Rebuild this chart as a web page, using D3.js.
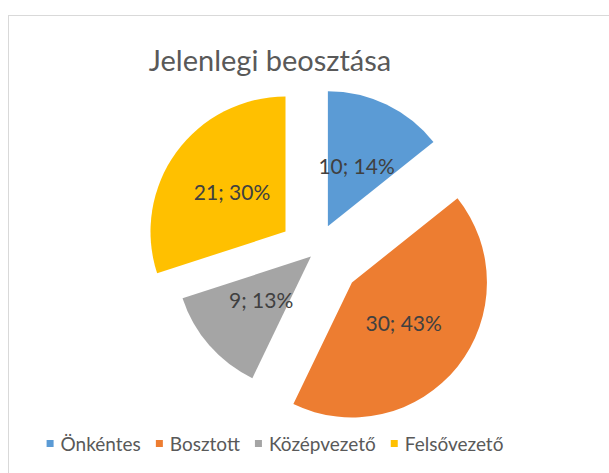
<!doctype html>
<html lang="hu">
<head>
    <meta charset="UTF-8">
    <script src="https://cdnjs.cloudflare.com/ajax/libs/d3/7.0.0/d3.min.js"></script>
    <title>Jelenlegi beosztása</title>
    <style>
        body { margin: 0; background: #fff; }
        text { font-family: Lato, "Open Sans", sans-serif; }
    </style>
</head>
<body>

<div id="viz_area"></div>

<script>
    // data
    const categories = ["Önkéntes", "Bosztott", "Középvezető", "Felsővezető"];
    const values = [10, 30, 9, 21];
    const percents = ["14%", "43%", "13%", "30%"];
    const colors = ["#5b9bd5", "#ed7d31", "#a5a5a5", "#ffc000"];
    // explosion of each slice, as part of the radius
    const explode = [0.22, 0.35, 0.04, 0.27];

    const width = 609, height = 473;
    const cx = 315, cy = 253, radius = 135;

    const svg = d3.select('#viz_area')
        .append("svg")
        .attr("width", width)
        .attr("height", height);

    // chart frame
    svg.append("rect")
        .attr("x", 8.5).attr("y", 15.5)
        .attr("width", 640).attr("height", 500)
        .attr("fill", "#fff")
        .attr("stroke", "#d9d9d9");

    svg.append("text")
        .attr("x", 270).attr("y", 71)
        .attr("text-anchor", "middle")
        .style("font-size", "29px")
        .style("fill", "#595959")
        .text("Jelenlegi beosztása");

    const pie = d3.pie().sort(null).value(d => d);
    const arcs = pie(values);
    const arc = d3.arc().innerRadius(0).outerRadius(radius);
    const labelArc = d3.arc().innerRadius(radius * 0.98).outerRadius(0);

    const g = svg.append("g").attr("transform", `translate(${cx},${cy})`);

    const slice = g.selectAll("g.slice")
        .data(arcs)
        .join("g")
        .attr("class", "slice")
        .attr("transform", (d, i) => {
            const a = (d.startAngle + d.endAngle) / 2;
            const off = explode[i] * radius;
            return `translate(${Math.sin(a) * off},${-Math.cos(a) * off})`;
        });

    slice.append("path")
        .attr("d", arc)
        .attr("fill", (d, i) => colors[i]);

    slice.append("text")
        .attr("transform", d => `translate(${labelArc.centroid(d)})`)
        .attr("text-anchor", "middle")
        .attr("dy", "0.36em")
        .style("font-size", "21px")
        .style("fill", "#404040")
        .text((d, i) => `${values[i]}; ${percents[i]}`);

    // legend
    const legend = svg.append("g");
    let x = 0;
    categories.forEach((c, i) => {
        const item = legend.append("g").attr("transform", `translate(${x},0)`);
        item.append("rect")
            .attr("x", 0).attr("y", -11)
            .attr("width", 7).attr("height", 7)
            .attr("fill", colors[i]);
        const t = item.append("text")
            .attr("x", 14).attr("y", 0)
            .style("font-size", "19px")
            .style("fill", "#595959")
            .text(c);
        x += 14 + t.node().getComputedTextLength() + 15;
    });
    x -= 15;
    legend.attr("transform", `translate(${275 - x / 2},451)`);
</script>
</body>
</html>
